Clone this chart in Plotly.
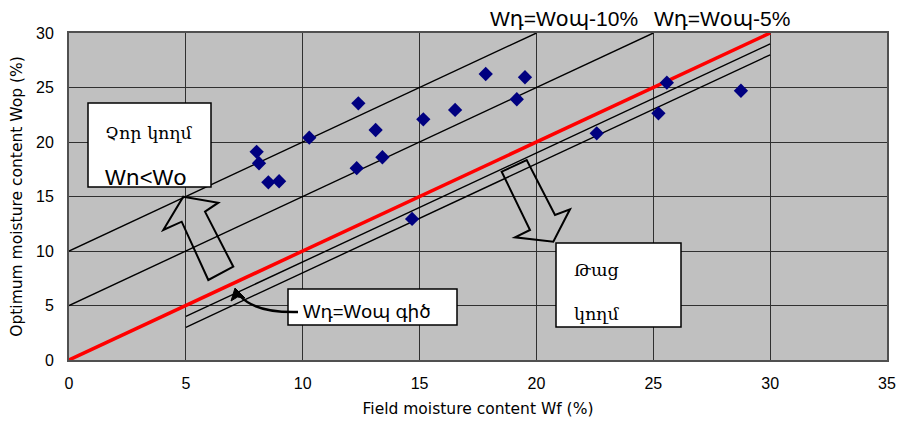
import plotly.graph_objects as go

# ---- data ----
field_wf = [8.03, 8.13, 8.53, 8.99, 10.28, 12.38, 13.12, 12.31, 13.41, 15.16,
            16.52, 17.83, 19.51, 19.16, 25.58, 28.75, 25.22, 22.58, 14.68]
optimum_wop = [19.1, 18.05, 16.3, 16.4, 20.4, 23.55, 21.1, 17.6, 18.6, 22.08,
               22.94, 26.24, 25.94, 23.92, 25.44, 24.7, 22.63, 20.8, 12.94]

# reference lines  y = x + offset, drawn over [x_start, x_end]
ref_offsets = [10, 5, -1, -2]
ref_x_start = [0, 0, 5, 5]
ref_x_end = [20, 25, 30, 30]
equal_line_x = [0, 30]          # Wf = Wop line (red)

x_ticks = [0, 5, 10, 15, 20, 25, 30, 35]
y_ticks = [0, 5, 10, 15, 20, 25, 30]

# ---- layout helpers (reference pixel -> data, for decorations) ----
PX0, PX1, PY0, PY1 = 69, 887, 360, 33
def dx(px):
    return (px - PX0) * 35 / (PX1 - PX0)
def dy(py):
    return (PY0 - py) * 30 / (PY0 - PY1)
def py_paper(py):
    return (PY0 - py) / (PY0 - PY1)

fig = go.Figure()

for off, xs, xe in zip(ref_offsets, ref_x_start, ref_x_end):
    fig.add_trace(go.Scatter(x=[xs, xe], y=[xs + off, xe + off], mode="lines",
                             line=dict(color="black", width=1.4),
                             showlegend=False, hoverinfo="skip"))

fig.add_trace(go.Scatter(x=equal_line_x, y=equal_line_x, mode="lines",
                         line=dict(color="#FF0000", width=3.5),
                         showlegend=False, hoverinfo="skip"))

fig.add_trace(go.Scatter(x=field_wf, y=optimum_wop, mode="markers",
                         marker=dict(symbol="diamond", size=11, color="#000080"),
                         showlegend=False))

shapes = []
# text boxes
for (a, b, c, d) in [(88, 103, 211, 187), (556, 243, 681, 327), (288, 289, 457, 325)]:
    shapes.append(dict(type="rect", xref="x", yref="y", x0=dx(a), x1=dx(c),
                       y0=dy(d), y1=dy(b), fillcolor="white",
                       line=dict(color="black", width=1.5), layer="above"))

def poly(pts):
    return "M " + " L ".join(f"{dx(p[0])},{dy(p[1])}" for p in pts) + " Z"

# hollow block arrows
up_arrow = [(183.3, 196.7), (218.3, 202.7), (205, 211.7), (233.3, 266.7),
            (208.3, 280), (181.7, 221.7), (163.3, 230)]
down_arrow = [(501.7, 171.7), (530, 230), (515, 237.3), (553.3, 241.7),
              (570, 209.3), (555, 215), (526.7, 160)]
for pts in (up_arrow, down_arrow):
    shapes.append(dict(type="path", xref="x", yref="y", path=poly(pts),
                       fillcolor="rgba(0,0,0,0)", line=dict(color="black", width=2),
                       layer="above"))

# curved arrow from the line label to the red line
shapes.append(dict(type="path", xref="x", yref="y",
                   path=f"M {dx(298)},{dy(312)} Q {dx(256)},{dy(313)} {dx(240)},{dy(296)}",
                   line=dict(color="black", width=2.5), layer="above"))
shapes.append(dict(type="path", xref="x", yref="y",
                   path=poly([(235, 288), (231, 301), (237.5, 297), (245, 298)]),
                   fillcolor="black", line=dict(color="black", width=1), layer="above"))

ann = []
arm = "DejaVu Serif"
lat = "Liberation Sans, DejaVu Sans"
ann.append(dict(x=dx(149), y=dy(133), text="Չոր կողմ", font=dict(family=arm, size=17.5, color="black")))
ann.append(dict(x=dx(103), y=dy(177), text="Wո<Wօ", xanchor="left", font=dict(family=lat, size=22, color="black")))
ann.append(dict(x=dx(572), y=dy(270), text="Թաց", xanchor="left", font=dict(family=arm, size=17.5, color="black")))
ann.append(dict(x=dx(572), y=dy(314), text="կողմ", xanchor="left", font=dict(family=arm, size=17.5, color="black")))
ann.append(dict(x=dx(301), y=dy(311), text="Wդ=Wօպ գիծ", xanchor="left", font=dict(family=lat, size=18.5, color="black")))
for a in ann:
    a.update(xref="x", yref="y", showarrow=False, yanchor="middle")
# labels above the plot area
for cx, txt in [(564, "Wդ=Wօպ-10%"), (722, "Wդ=Wօպ-5%")]:
    ann.append(dict(x=dx(cx), y=py_paper(18), xref="x", yref="paper", text=txt,
                    xanchor="center", yanchor="middle",
                    showarrow=False, font=dict(family=lat, size=21, color="black")))

tick_font = dict(family="Liberation Sans, sans-serif", size=16, color="black")
title_font = dict(family="DejaVu Sans, sans-serif", size=15.5, color="black")
fig.update_layout(
    width=897, height=421,
    margin=dict(l=69, r=10, t=33, b=61, autoexpand=False),
    paper_bgcolor="white", plot_bgcolor="#C0C0C0",
    shapes=shapes, annotations=ann,
    xaxis=dict(range=[0, 35], tickvals=x_ticks, showgrid=True, gridcolor="#303030",
               gridwidth=1, zeroline=False, showline=True, linecolor="#505050",
               linewidth=2, mirror=True, ticks="outside", ticklen=8,
               tickcolor="rgba(0,0,0,0)", tickfont=tick_font,
               ticklabeloverflow="allow",
               title=dict(text="Field moisture content Wf (%)", font=title_font,
                          standoff=12)),
    yaxis=dict(range=[0, 30], tickvals=y_ticks, showgrid=True, gridcolor="#303030",
               gridwidth=1, zeroline=False, showline=True, linecolor="#505050",
               linewidth=2, mirror=True, ticks="outside", ticklen=10,
               tickcolor="rgba(0,0,0,0)", tickfont=tick_font,
               title=dict(text="Optimum moisture content Wop (%)", font=title_font,
                          standoff=10)),
)

# remove the browser's default 8px page margin so the figure fills the window
fig.write_html("out.html", config={"displayModeBar": False},
               post_script="document.body.style.margin='0px';document.body.style.overflow='hidden';")
